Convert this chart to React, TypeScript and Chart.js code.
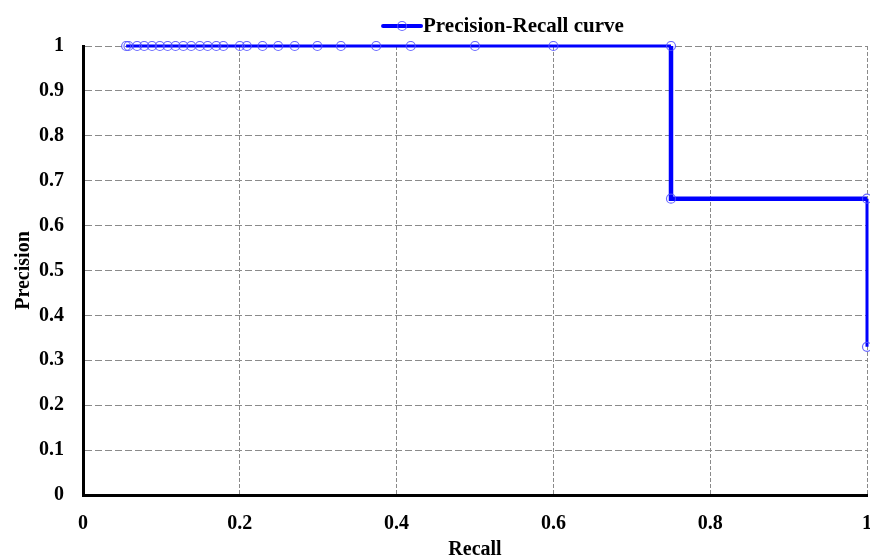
import React, { useEffect, useRef } from 'react';
import { Chart, registerables } from 'chart.js';

Chart.register(...registerables);

const seriesLabel = 'Precision-Recall curve';
const recall = [
  0.055, 0.058, 0.069, 0.078, 0.088, 0.098, 0.108, 0.118, 0.128, 0.138, 0.149, 0.159, 0.17,
  0.179, 0.2, 0.209, 0.229, 0.249, 0.27, 0.299, 0.329, 0.374, 0.418, 0.5, 0.6, 0.75, 0.75, 1.0, 1.0,
];
const precision = [
  1, 1, 1, 1, 1, 1, 1, 1, 1, 1, 1, 1, 1, 1, 1, 1, 1, 1, 1, 1, 1, 1, 1, 1, 1, 1, 0.66, 0.66, 0.33,
];
const xTickValues = [0, 0.2, 0.4, 0.6, 0.8, 1];
const xTickLabels = ['0', '0.2', '0.4', '0.6', '0.8', '1'];
const yTickValues = [0, 0.1, 0.2, 0.3, 0.4, 0.5, 0.6, 0.7, 0.8, 0.9, 1];
const yTickLabels = ['0', '0.1', '0.2', '0.3', '0.4', '0.5', '0.6', '0.7', '0.8', '0.9', '1'];
const xTitle = 'Recall';
const yTitle = 'Precision';

const FAMILY = '"Liberation Serif", "Times New Roman", serif';
const LINE_COLOR = '#0000ff';
const POINT_COLOR = 'rgba(80,80,255,0.85)';
const GRID_COLOR = '#8a8a8a';

export default function App() {
  const ref = useRef<HTMLCanvasElement>(null);

  useEffect(() => {
    document.body.style.margin = '0';
    const canvas = ref.current;
    if (!canvas) return;

    const legendPlugin = {
      id: 'lineLegend',
      afterDraw(chart: any) {
        const { ctx, chartArea } = chart;
        const w = chartArea.right - chartArea.left;
        const x0 = chartArea.left + w * 0.3827;
        const x1 = x0 + 38;
        const y = chartArea.top - 20;
        ctx.save();
        ctx.strokeStyle = LINE_COLOR;
        ctx.lineWidth = 4;
        ctx.lineCap = 'round';
        ctx.beginPath();
        ctx.moveTo(x0, y);
        ctx.lineTo(x1, y);
        ctx.stroke();
        ctx.lineWidth = 1.2;
        ctx.strokeStyle = POINT_COLOR;
        ctx.beginPath();
        ctx.arc((x0 + x1) / 2, y, 4.5, 0, Math.PI * 2);
        ctx.stroke();
        ctx.fillStyle = '#000';
        ctx.font = `bold 21px ${FAMILY}`;
        ctx.textBaseline = 'middle';
        ctx.textAlign = 'left';
        ctx.fillText(seriesLabel, x1 + 2, y + 1);
        ctx.restore();
      },
    };

    const chart = new Chart(canvas, {
      type: 'scatter',
      data: {
        datasets: [
          {
            label: seriesLabel,
            data: recall.map((x, i) => ({ x, y: precision[i] })),
            showLine: true,
            borderColor: LINE_COLOR,
            backgroundColor: 'rgba(0,0,0,0)',
            borderWidth: 4,
            tension: 0,
            clip: 5,
            pointRadius: 4.5,
            pointBorderWidth: 1.2,
            pointBorderColor: POINT_COLOR,
            pointBackgroundColor: 'rgba(0,0,0,0)',
            segment: {
              borderWidth: (c: any) => {
                const a = c.p0.parsed.y;
                const b = c.p1.parsed.y;
                if (a === 1 && b === 1) return 3;
                if (b < 0.5) return 3;
                return 4.5;
              },
            },
          },
        ],
      },
      options: {
        animation: false,
        responsive: false,
        layout: { autoPadding: false, padding: { top: 46, right: 3, left: 0, bottom: 0 } },
        plugins: { legend: { display: false }, tooltip: { enabled: false } },
        scales: {
          x: {
            type: 'linear',
            min: 0,
            max: 1,
            afterBuildTicks: (s: any) => {
              s.ticks = xTickValues.map((v) => ({ value: v }));
            },
            afterFit: (s: any) => {
              s.height = 64;
              s.paddingRight = 0;
              s.paddingLeft = 0;
            },
            ticks: {
              padding: 17,
              color: '#000',
              font: { family: FAMILY, size: 20, weight: 'bold' },
              callback: (v: any) => xTickLabels[xTickValues.indexOf(Number(v))] ?? '',
              maxRotation: 0,
            },
            grid: { color: GRID_COLOR, lineWidth: 1, drawTicks: false },
            border: { color: '#000', width: 3, dash: [4, 2] },
            title: {
              display: true,
              text: xTitle,
              color: '#000',
              font: { family: FAMILY, size: 20, weight: 'bold' },
              padding: { top: 0, bottom: -3 },
            },
          },
          y: {
            type: 'linear',
            min: 0,
            max: 1,
            afterBuildTicks: (s: any) => {
              s.ticks = yTickValues.map((v) => ({ value: v }));
            },
            afterFit: (s: any) => {
              s.width = 83;
            },
            ticks: {
              padding: 19,
              color: '#000',
              font: { family: FAMILY, size: 20, weight: 'bold' },
              callback: (v: any) => yTickLabels[yTickValues.indexOf(Number(v))] ?? '',
            },
            grid: { color: GRID_COLOR, lineWidth: 1, drawTicks: false },
            border: { color: '#000', width: 3, dash: [7, 3] },
            title: {
              display: true,
              text: yTitle,
              color: '#000',
              font: { family: FAMILY, size: 20, weight: 'bold' },
              padding: { top: 12, bottom: 0 },
            },
          },
        },
      },
      plugins: [legendPlugin],
    } as any);

    return () => chart.destroy();
  }, []);

  return (
    <div style={{ width: 870, height: 559 }}>
      <canvas ref={ref} width={870} height={559} style={{ display: 'block' }} />
    </div>
  );
}
